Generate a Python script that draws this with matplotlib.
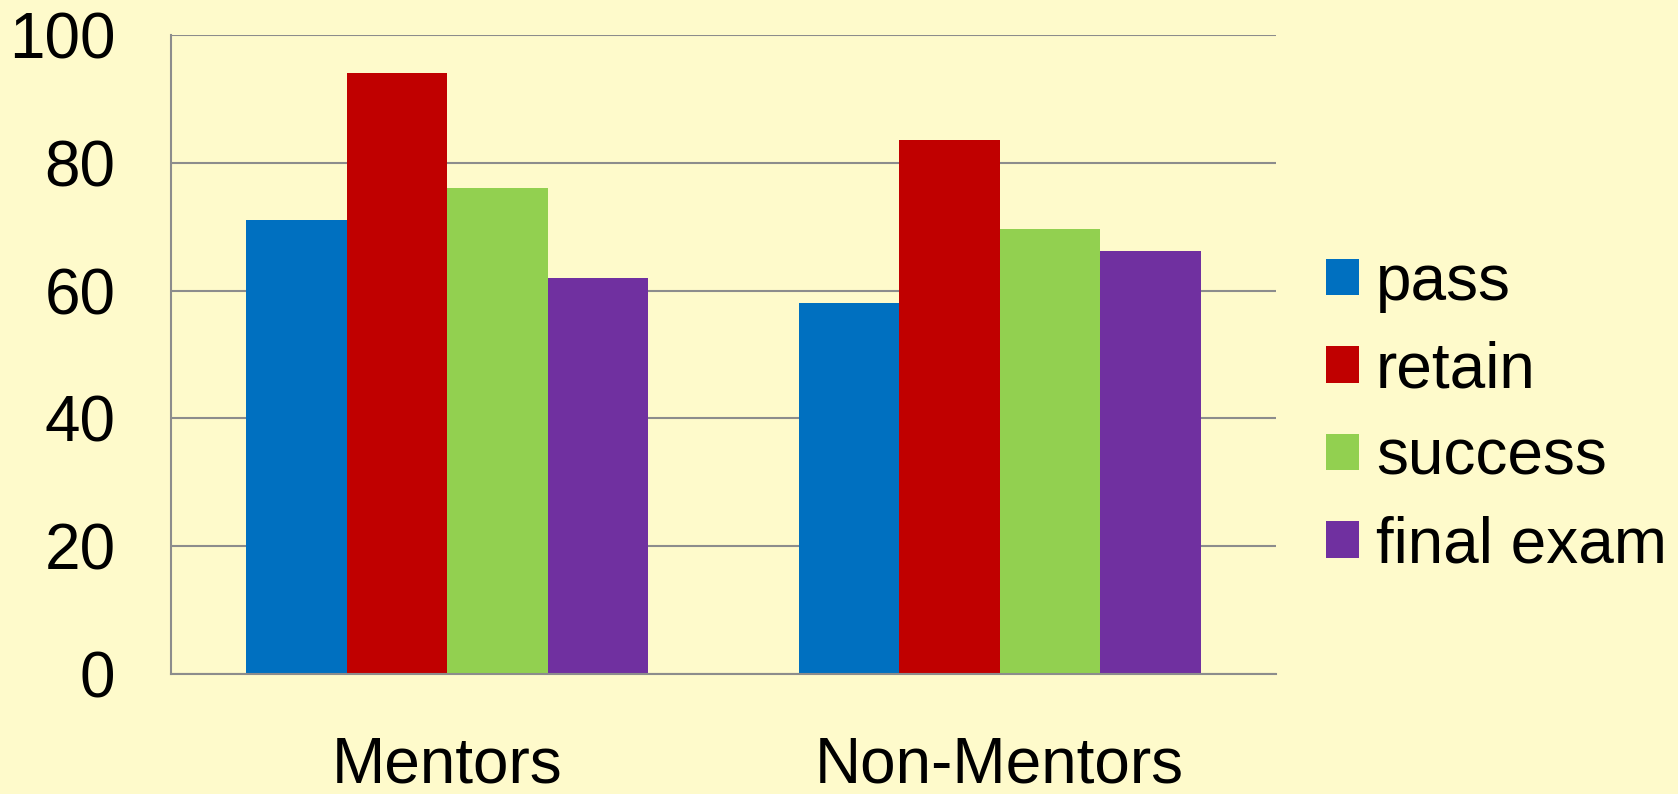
import numpy as np
import matplotlib.pyplot as plt
from matplotlib.patches import Patch

plt.rcParams['font.family'] = ['Liberation Sans', 'DejaVu Sans']

groups = ['Mentors', 'Non-Mentors']
series = ['pass', 'retain', 'success', 'final exam']
pass_vals = [71, 58]
retain_vals = [94, 83.6]
success_vals = [76, 69.7]
final_vals = [62, 66.2]
values = [pass_vals, retain_vals, success_vals, final_vals]
colors = ['#0070C0', '#C00000', '#92D050', '#7030A0']
bg = '#FEFACB'
grid_c = '#8C8C8C'

fig = plt.figure(figsize=(16.78, 7.94), dpi=100, facecolor=bg)
ax = fig.add_axes([171 / 1678, 1 - 674 / 794, (1276 - 171) / 1678, (674 - 35) / 794])
ax.set_facecolor(bg)

x = np.arange(len(groups))
w = 0.182
for i, (vals, c) in enumerate(zip(values, colors)):
    ax.bar(x + (i - 1.5) * w, vals, w, color=c, label=series[i], zorder=3)

ax.set_xlim(-0.5, 1.5)
ax.set_ylim(0, 100)
ax.set_yticks(range(0, 101, 20))
ax.yaxis.grid(True, color=grid_c, linewidth=1.5, zorder=0)
for s in ['top', 'right']:
    ax.spines[s].set_visible(False)
for s in ['left', 'bottom']:
    ax.spines[s].set_color(grid_c)
    ax.spines[s].set_linewidth(1.5)
    ax.spines[s].set_zorder(4)
ax.set_xticks(x)
ax.set_xticklabels(groups)
ax.tick_params(axis='both', length=0, labelsize=46)
ax.tick_params(axis='y', pad=40)
ax.tick_params(axis='x', pad=44)

handles = [Patch(facecolor=c) for c in colors]
fig.legend(handles, series, loc='center left', bbox_to_anchor=(1326 / 1678, 1 - 414 / 794),
           frameon=False, fontsize=46, handlelength=0.52, handleheight=0.5,
           handletextpad=0.26, labelspacing=0.43, borderpad=0, borderaxespad=0)

fig.savefig('out.png', dpi=100, facecolor=bg)
